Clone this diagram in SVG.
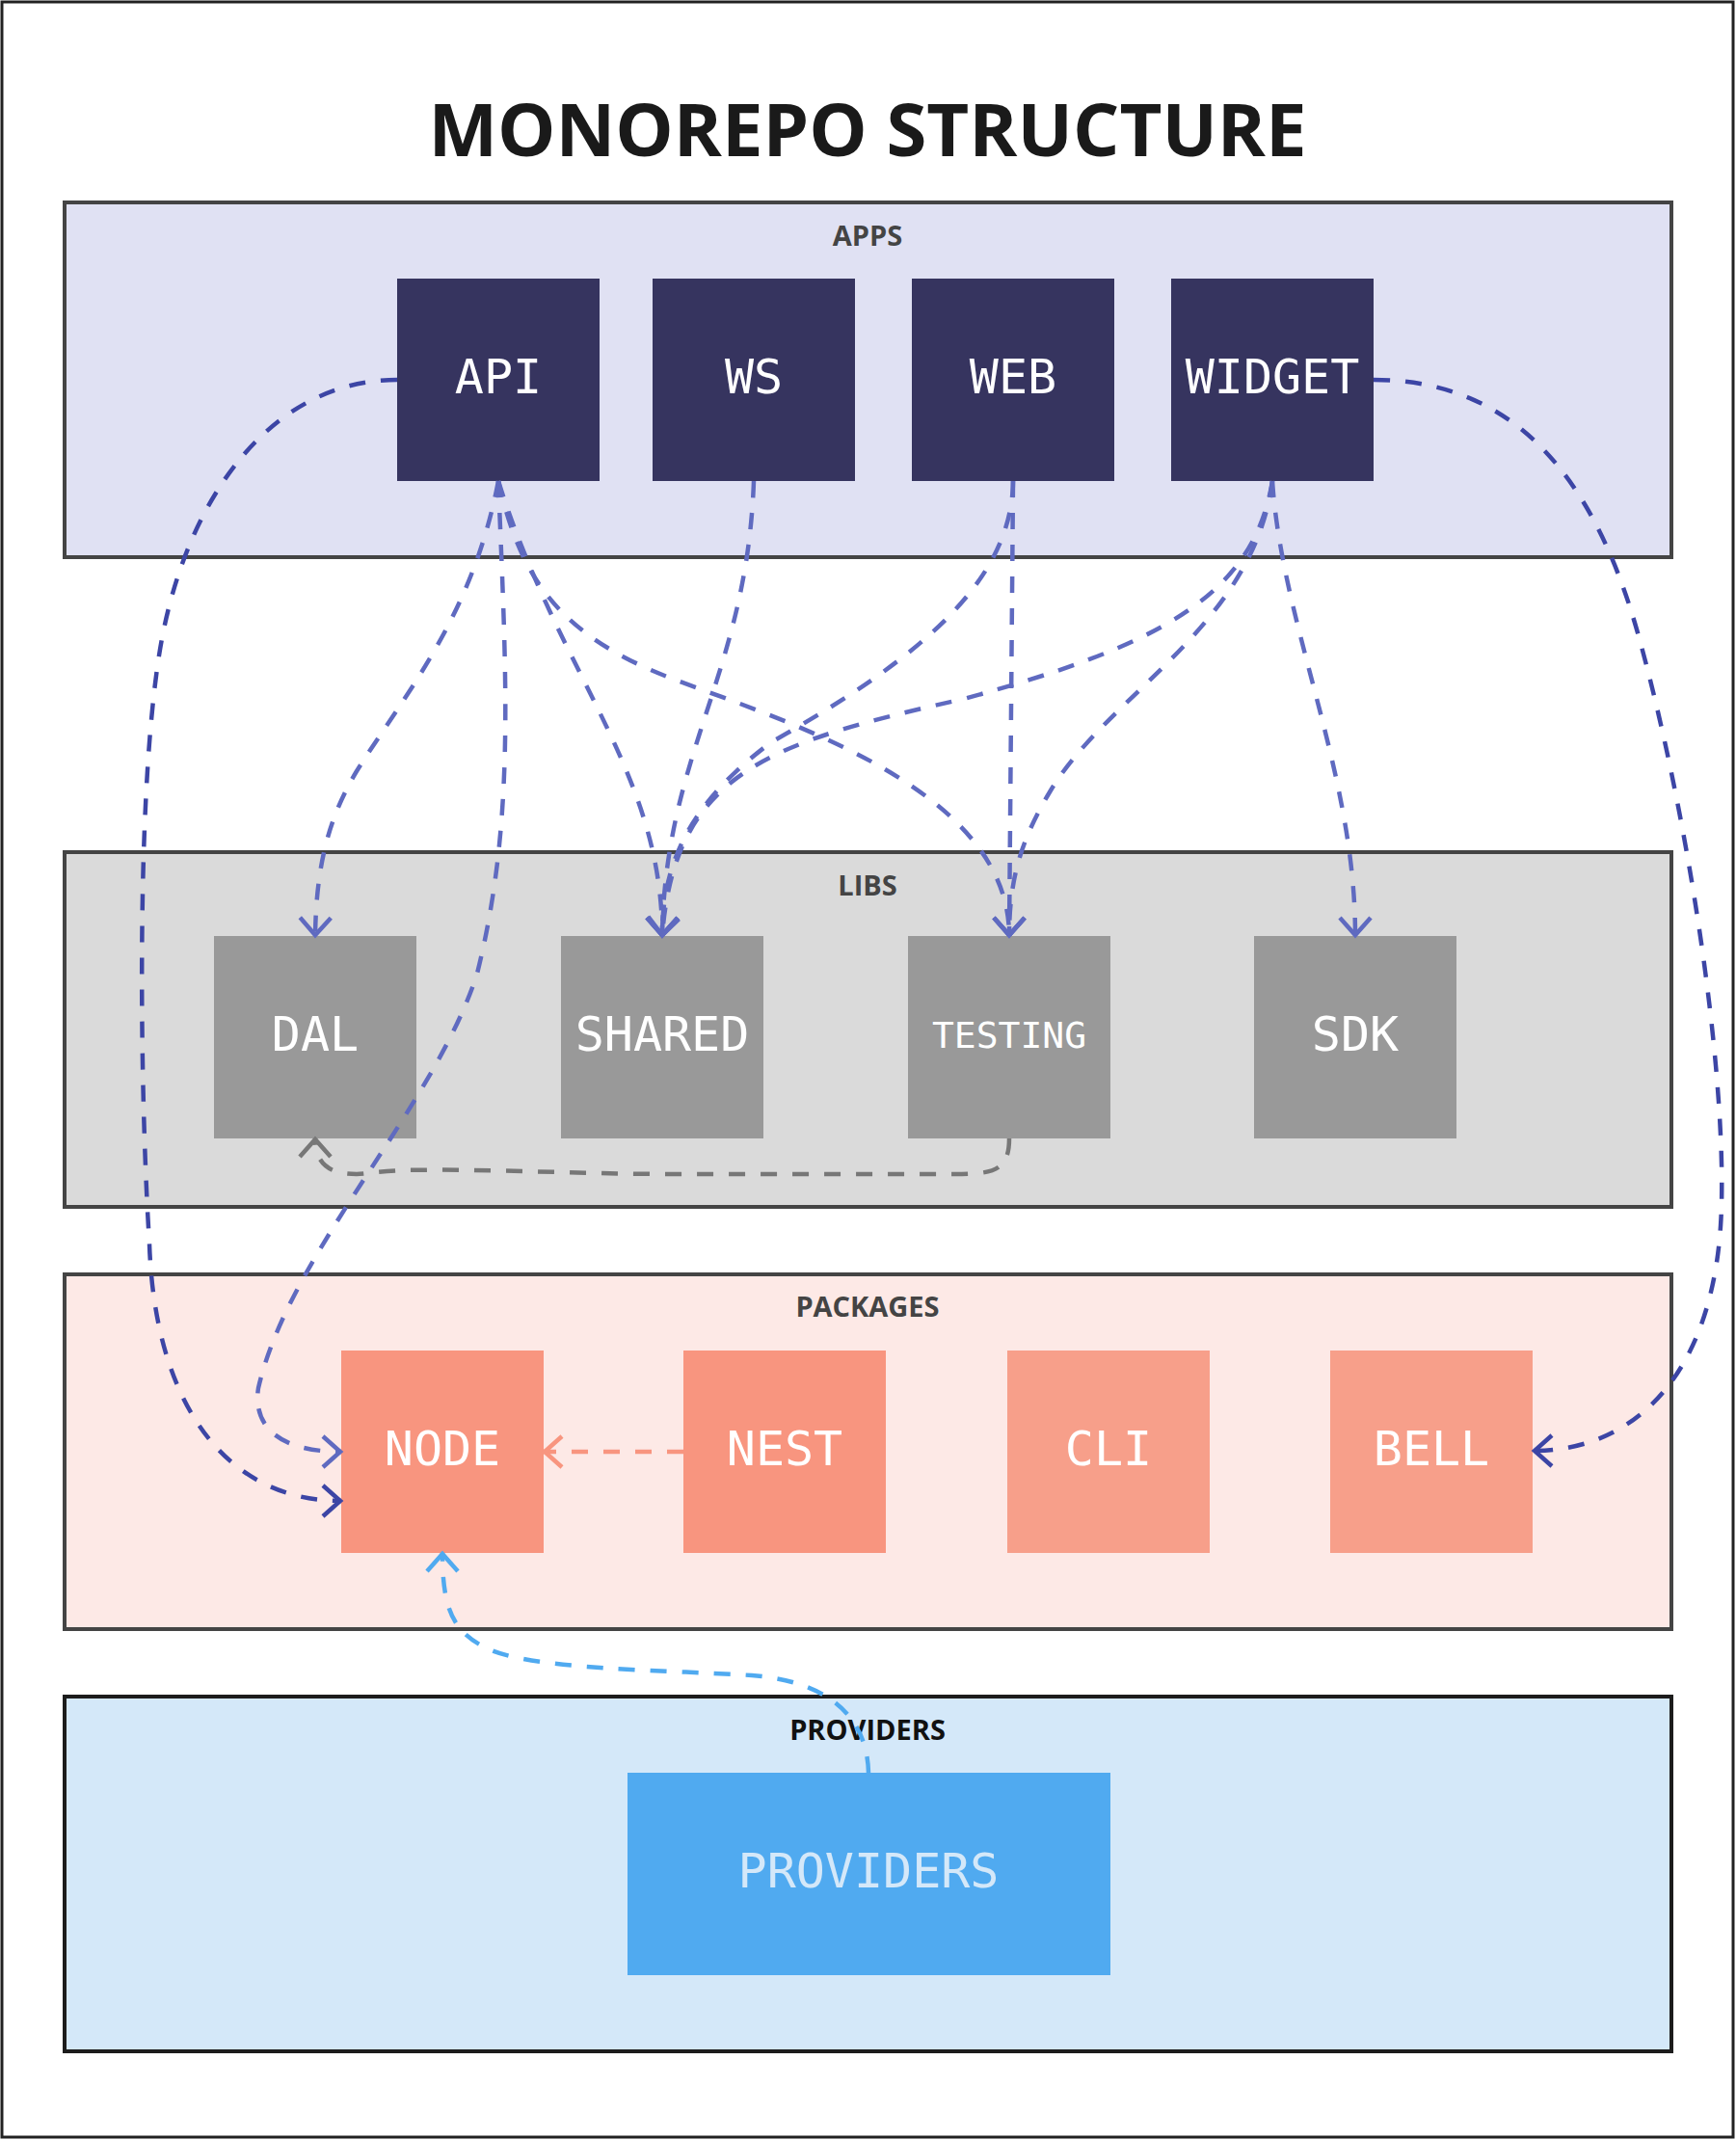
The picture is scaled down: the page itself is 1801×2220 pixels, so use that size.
<svg xmlns="http://www.w3.org/2000/svg" width="1801" height="2220" viewBox="0 0 1801 2220">
<style>
.title{font-family:"Open Sans","Noto Sans",sans-serif;font-weight:700;font-size:76px;text-anchor:middle;fill:#1a1a1a}
.cl{font-family:"Open Sans","Noto Sans",sans-serif;font-weight:700;font-size:29px;text-anchor:middle;fill:#444}
.nl{font-family:"DejaVu Sans Mono",monospace;font-size:50px;text-anchor:middle;fill:#ffffff}
.cont{stroke:#444;stroke-width:4}
.e{fill:none;stroke-width:4.5;stroke-dasharray:17 16}
.dk{stroke:#3c45a5}
.md{stroke:#5f6ac0}
.gy{stroke:#777777}
.sa{stroke:#f8957f}
.lb{stroke:#50aaf0}
</style>
<defs>
<marker id="m-dk" viewBox="-22 -20 26 40" refX="1" refY="0" markerWidth="26" markerHeight="40" markerUnits="userSpaceOnUse" orient="auto"><path d="M-18,-16 L0,0 L-18,16" fill="none" stroke="#3c45a5" stroke-width="4.5"/></marker>
<marker id="m-md" viewBox="-22 -20 26 40" refX="1" refY="0" markerWidth="26" markerHeight="40" markerUnits="userSpaceOnUse" orient="auto"><path d="M-18,-16 L0,0 L-18,16" fill="none" stroke="#5f6ac0" stroke-width="4.5"/></marker>
<marker id="m-gy" viewBox="-22 -20 26 40" refX="1" refY="0" markerWidth="26" markerHeight="40" markerUnits="userSpaceOnUse" orient="auto"><path d="M-18,-16 L0,0 L-18,16" fill="none" stroke="#777777" stroke-width="4.5"/></marker>
<marker id="m-sa" viewBox="-22 -20 26 40" refX="1" refY="0" markerWidth="26" markerHeight="40" markerUnits="userSpaceOnUse" orient="auto"><path d="M-18,-16 L0,0 L-18,16" fill="none" stroke="#f8957f" stroke-width="4.5"/></marker>
<marker id="m-lb" viewBox="-22 -20 26 40" refX="1" refY="0" markerWidth="26" markerHeight="40" markerUnits="userSpaceOnUse" orient="auto"><path d="M-18,-16 L0,0 L-18,16" fill="none" stroke="#50aaf0" stroke-width="4.5"/></marker>
</defs>
<rect x="0" y="0" width="1801" height="2220" fill="#ffffff"/>
<rect x="2" y="2" width="1796" height="2215" fill="none" stroke="#222" stroke-width="3"/>
<text class="title" x="900" y="162">MONOREPO STRUCTURE</text>

<g id="apps">
<rect class="cont" x="67" y="210" width="1667" height="368" fill="#e0e1f3"/>
<text class="cl" x="900" y="255">APPS</text>
</g>
<g id="libs">
<rect class="cont" x="67" y="884" width="1667" height="368" fill="#dadada"/>
<text class="cl" x="900" y="929">LIBS</text>
</g>
<g id="packages">
<rect class="cont" x="67" y="1322" width="1667" height="368" fill="#fde9e6"/>
<text class="cl" x="900" y="1366">PACKAGES</text>
</g>
<g id="providers-group">
<rect x="67" y="1760" width="1667" height="368" fill="#d4e8f9" stroke="#1c1c1c" stroke-width="4"/>
<text class="cl" x="900" y="1805" style="fill:#111">PROVIDERS</text>
</g>

<g id="api"><rect x="412" y="289" width="210" height="210" fill="#36345f"/><text class="nl" x="517" y="408">API</text></g>
<g id="ws"><rect x="677" y="289" width="210" height="210" fill="#36345f"/><text class="nl" x="782" y="408">WS</text></g>
<g id="web"><rect x="946" y="289" width="210" height="210" fill="#36345f"/><text class="nl" x="1051" y="408">WEB</text></g>
<g id="widget"><rect x="1215" y="289" width="210" height="210" fill="#36345f"/><text class="nl" x="1320" y="408">WIDGET</text></g>

<g id="dal"><rect x="222" y="971" width="210" height="210" fill="#999999"/><text class="nl" x="327" y="1090">DAL</text></g>
<g id="shared"><rect x="582" y="971" width="210" height="210" fill="#999999"/><text class="nl" x="687" y="1090">SHARED</text></g>
<g id="testing"><rect x="942" y="971" width="210" height="210" fill="#999999"/><text class="nl" x="1047" y="1087" style="font-size:38px">TESTING</text></g>
<g id="sdk"><rect x="1301" y="971" width="210" height="210" fill="#999999"/><text class="nl" x="1406" y="1090">SDK</text></g>

<g id="node"><rect x="354" y="1401" width="210" height="210" fill="#f8957f"/><text class="nl" x="459" y="1520">NODE</text></g>
<g id="nest"><rect x="709" y="1401" width="210" height="210" fill="#f8957f"/><text class="nl" x="814" y="1520">NEST</text></g>
<g id="cli"><rect x="1045" y="1401" width="210" height="210" fill="#f79f8a"/><text class="nl" x="1150" y="1520">CLI</text></g>
<g id="bell"><rect x="1380" y="1401" width="210" height="210" fill="#f79f8a"/><text class="nl" x="1485" y="1520">BELL</text></g>

<g id="providers"><rect x="651" y="1839" width="501" height="210" fill="#50aaf0"/><text class="nl" x="901" y="1958" style="fill:#d4e8f9">PROVIDERS</text></g>

<g id="connectors">
<path class="e dk" marker-end="url(#m-dk)" d="M412,394 C280,394 190,520 165,680 C140,840 146,1150 155,1290 C160,1450 230,1557 354,1557"/>
<path class="e md" marker-end="url(#m-md)" d="M517,499 C525,700 535,850 495,1010 C450,1150 300,1300 268,1440 C262,1480 290,1506 354,1506"/>
<path class="e md" marker-end="url(#m-md)" d="M517,499 C490,640 420,720 370,800 C340,850 328,900 327,971"/>
<path class="e md" marker-end="url(#m-md)" d="M517,499 C580,700 687,800 687,971"/>
<path class="e md" marker-end="url(#m-md)" d="M517,499 C540,600 580,660 700,705 C820,750 1047,820 1047,971"/>
<path class="e md" marker-end="url(#m-md)" d="M782,499 C775,700 690,780 687,971"/>
<path class="e md" marker-end="url(#m-md)" d="M1051,499 C1050,600 960,680 800,770 C720,830 687,890 687,971"/>
<path class="e md" marker-end="url(#m-md)" d="M1051,499 L1047,971"/>
<path class="e md" marker-end="url(#m-md)" d="M1320,499 C1300,620 1200,670 1000,725 C800,770 700,800 687,971"/>
<path class="e md" marker-end="url(#m-md)" d="M1320,499 C1300,650 1150,720 1090,820 C1060,870 1047,910 1047,971"/>
<path class="e md" marker-end="url(#m-md)" d="M1320,499 C1330,650 1406,800 1406,971"/>
<path class="e dk" marker-end="url(#m-dk)" d="M1425,394 C1560,394 1650,480 1700,660 C1750,840 1790,1100 1786,1250 C1782,1420 1700,1505 1591,1505"/>
<path class="e gy" marker-end="url(#m-gy)" d="M1047,1181 C1047,1215 1030,1218 990,1218 L700,1218 C600,1218 500,1212 420,1214 C390,1215 380,1218 370,1218 C345,1218 327,1210 327,1181"/>
<path class="e sa" marker-end="url(#m-sa)" d="M709,1506 L564,1506"/>
<path class="e lb" marker-end="url(#m-lb)" d="M901,1839 C900,1790 870,1745 780,1738 C680,1732 560,1732 510,1712 C470,1695 459,1670 459,1611"/>
</g>
</svg>
